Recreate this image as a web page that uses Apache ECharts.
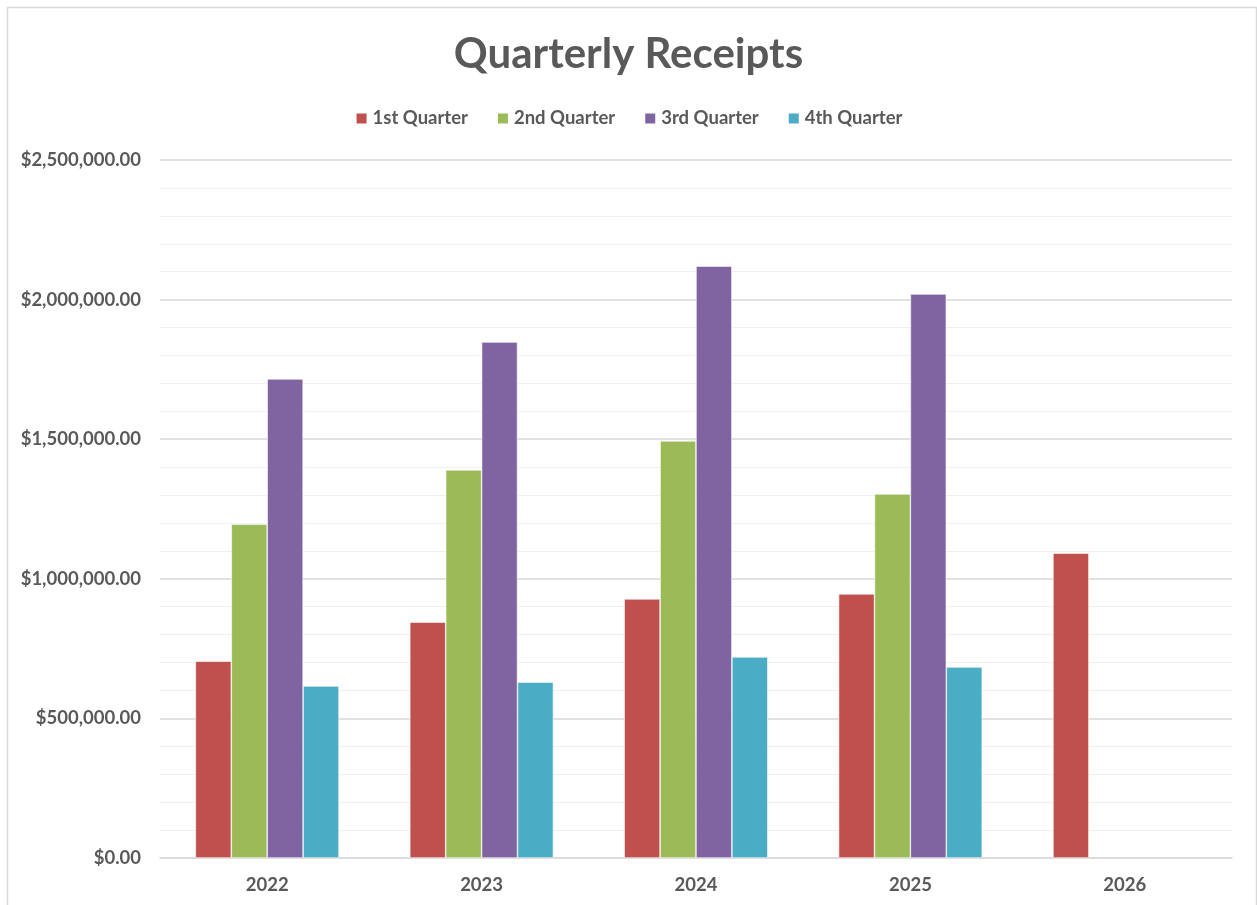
<!DOCTYPE html>
<html>
<head>
<meta charset="utf-8">
<script src="https://cdn.jsdelivr.net/npm/echarts@6/dist/echarts.min.js"></script>
<style>
  html, body { margin: 0; padding: 0; background: #fff; }
  #chart { width: 1257px; height: 905px; }
</style>
</head>
<body>
<div id="chart"></div>
<script>
// chart data
const years = ['2022', '2023', '2024', '2025', '2026']
const quarterNames = ['1st Quarter', '2nd Quarter', '3rd Quarter', '4th Quarter']
const q1 = [705000, 845000, 928000, 946000, 1092000]
const q2 = [1196000, 1390000, 1494000, 1304000, null]
const q3 = [1716000, 1848000, 2120000, 2020000, null]
const q4 = [616000, 630000, 720000, 684000, null]
const quarterColors = ['#C0504D', '#9BBB59', '#8064A2', '#4BACC6']

const textColor = '#595959'
const fontFamily = 'Lato, "Open Sans", sans-serif'

const chart = echarts.init(document.getElementById('chart'))

function money(v) {
  return '$' + v.toLocaleString('en-US', { minimumFractionDigits: 2, maximumFractionDigits: 2 })
}

const series = [q1, q2, q3, q4].map((data, i) => ({
  name: quarterNames[i],
  type: 'bar',
  data: data,
  barGap: 0,
  barCategoryGap: '33%',
  itemStyle: {
    color: quarterColors[i],
    borderColor: '#fff',
    borderWidth: 0.6
  }
}))

chart.setOption({
  animation: false,
  color: quarterColors,
  textStyle: { fontFamily: fontFamily },
  title: {
    text: 'Quarterly Receipts',
    left: 'center',
    top: 28,
    textStyle: { color: textColor, fontSize: 42, fontWeight: 'bold', fontFamily: fontFamily }
  },
  legend: {
    data: quarterNames,
    top: 104,
    left: 'center',
    icon: 'rect',
    itemWidth: 12,
    itemHeight: 12,
    itemGap: 28,
    textStyle: { color: textColor, fontSize: 18.5, fontWeight: 'bold', fontFamily: fontFamily }
  },
  graphic: [{
    type: 'rect',
    left: 5,
    top: 5,
    shape: { width: 1249, height: 910 },
    style: { fill: 'none', stroke: '#d9d9d9', lineWidth: 1.5 },
    silent: true
  }],
  grid: { left: 160, right: 25, top: 160, bottom: 47 },
  xAxis: {
    type: 'category',
    data: years,
    axisTick: { show: false },
    axisLine: { lineStyle: { color: '#d9d9d9', width: 1.5 } },
    axisLabel: { color: textColor, fontSize: 18.5, fontWeight: 'bold', margin: 18, fontFamily: fontFamily }
  },
  yAxis: {
    type: 'value',
    min: 0,
    max: 2500000,
    interval: 500000,
    axisLine: { show: false },
    axisTick: { show: false },
    axisLabel: {
      color: textColor, fontSize: 18.5, fontWeight: 'bold', margin: 19, fontFamily: fontFamily,
      formatter: money
    },
    splitLine: { lineStyle: { color: '#d9d9d9', width: 1.5 } },
    minorTick: { show: false, splitNumber: 5 },
    minorSplitLine: { show: true, lineStyle: { color: '#f0f0f0', width: 1 } }
  },
  series: series
})
</script>
</body>
</html>
